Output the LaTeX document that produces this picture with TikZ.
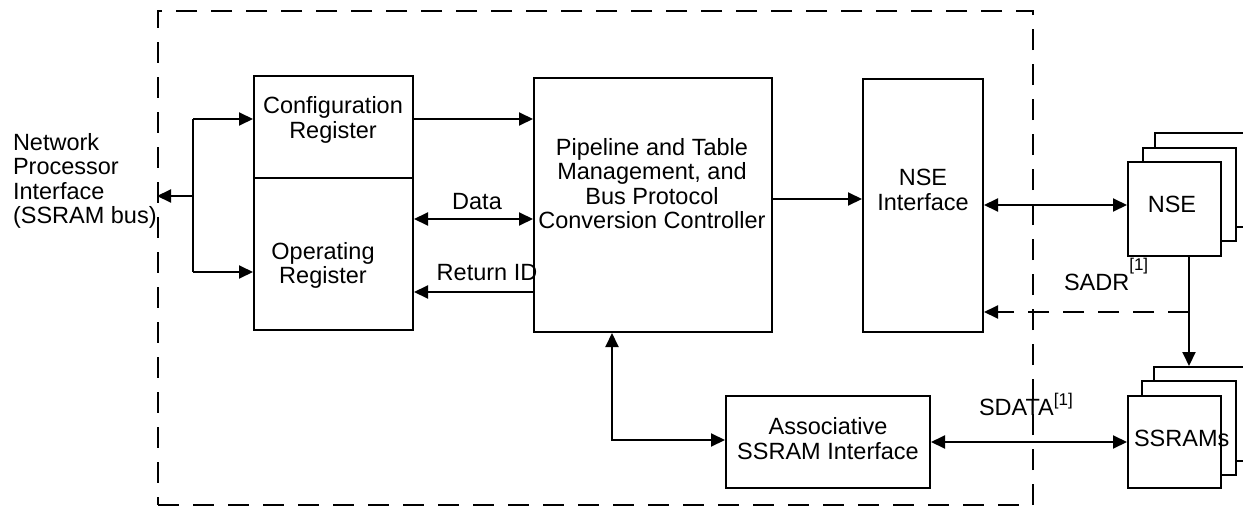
\documentclass[tikz,border=0pt]{standalone}
\usepackage{fontspec}
\setmainfont{Liberation Sans}
\usetikzlibrary{arrows.meta}
\newcommand{\supnote}[2]{\raisebox{#1}{\fontsize{17}{17}\selectfont #2}}
\begin{document}
\begin{tikzpicture}[x=1pt,y=-1pt, line width=2pt,
  box/.style={draw, fill=white, rectangle, inner sep=0pt},
  lbl/.style={font=\fontsize{23.5}{24.3}\selectfont, inner sep=0pt, align=center},
  arr/.style={-{Triangle[length=14pt,width=13pt]}},
  darr/.style={{Triangle[length=14pt,width=13pt]}-{Triangle[length=14pt,width=13pt]}},
  dsh/.style={dash pattern=on 21pt off 14pt}]
\useasboundingbox (0,0) rectangle (1243,506);
\clip (0,0) rectangle (1243,506);
% frame
\node[draw, dsh, inner sep=0pt, minimum width=875pt, minimum height=494pt] (frame) at (595.5,258) {};
% boxes
\node[box, minimum width=159pt, minimum height=102pt] (cfg) at (333.5,127) {};
\node[box, minimum width=159pt, minimum height=152pt] (op) at (333.5,254) {};
\node[box, minimum width=238pt, minimum height=254pt] (pipe) at (653,205) {};
\node[box, minimum width=120pt, minimum height=253pt] (nsei) at (923,205.5) {};
\node[box, minimum width=204pt, minimum height=92pt] (asi) at (828,442) {};
\node[box, minimum width=120pt, minimum height=94pt] (nse3) at (1215,180) {};
\node[box, minimum width=93pt, minimum height=93pt] (nse2) at (1189.5,194.5) {};
\node[box, minimum width=93pt, minimum height=94pt] (nse1) at (1174.5,209) {};
\node[box, minimum width=121pt, minimum height=94pt] (ssr3) at (1214.5,414) {};
\node[box, minimum width=94pt, minimum height=94pt] (ssr2) at (1189,428) {};
\node[box, minimum width=93pt, minimum height=92pt] (ssr1) at (1174.5,442) {};
% texts
\node[lbl] (tcfg) at (333,120) {Configuration\\Register};
\node[lbl] (top) at (323,265.5) {Operating\\Register};
\node[lbl] (tpipe) at (652,183.5) {Pipeline and Table\\Management, and\\Bus Protocol\\Conversion Controller};
\node[lbl] (tnsei) at (923,190) {NSE\\Interface};
\node[lbl] (tasi) at (828,438.5) {Associative\\SSRAM Interface};
\node[lbl] (tnse) at (1172,204) {NSE};
\node[lbl, anchor=west] (tssr) at (1133,438) {SSRAMs};
\node[lbl, align=left, anchor=west] (tnpi) at (12,181) {Network\\Processor\\Interface\\(SSRAM bus)};
\node[lbl] (tdata) at (477,202) {Data};
\node[lbl] (tret) at (487,273) {Return ID};
\node[lbl, anchor=base west] (tsadr) at (1063,290.5) {SADR\supnote{20pt}{[1]}};
\node[lbl, anchor=base west] (tsdata) at (978,415.5) {SDATA\supnote{10pt}{[1]}};
% connectors
\coordinate (j) at (193,196);
\coordinate (ja) at (193,119);
\coordinate (jb) at (193,272);
\draw (ja) -- (jb);
\draw[arr] (j) -- (j -| frame.west);
\draw[arr] (ja) -- (ja -| cfg.west);
\draw[arr] (jb) -- (jb -| op.west);
\draw[arr] (ja -| cfg.east) -- (ja -| pipe.west);
\coordinate (yd) at (0,219);
\draw[darr] (yd -| op.east) -- (yd -| pipe.west);
\coordinate (yr) at (0,292);
\draw[arr] (yr -| pipe.west) -- (yr -| op.east);
\coordinate (yp) at (0,199);
\draw[arr] (yp -| pipe.east) -- (yp -| nsei.west);
\coordinate (yn) at (0,205);
\draw[darr] (yn -| nsei.east) -- (yn -| nse1.west);
\coordinate (xv) at (1189,0);
\coordinate (ys) at (0,312);
\draw[arr] (xv |- nse1.south) -- (xv |- ssr3.north);
\draw[arr, dsh] (xv |- ys) -- (ys -| nsei.east);
\coordinate (xa) at (612,0);
\coordinate (ya) at (0,440);
\draw[darr] (xa |- pipe.south) -- (xa |- ya) -- (ya -| asi.west);
\coordinate (yb) at (0,442);
\draw[darr] (yb -| asi.east) -- (yb -| ssr1.west);
\end{tikzpicture}
\end{document}
